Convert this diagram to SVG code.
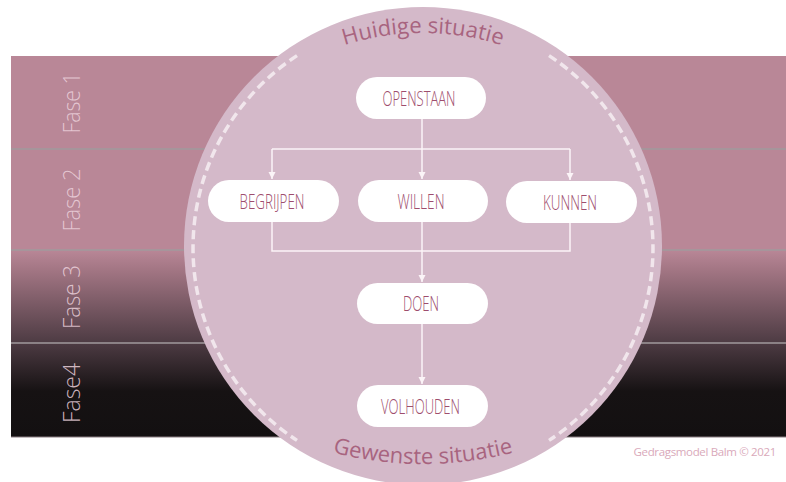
<svg xmlns="http://www.w3.org/2000/svg" width="786" height="482" viewBox="0 0 786 482">
<defs>
<linearGradient id="band" gradientUnits="userSpaceOnUse" x1="0" y1="56" x2="0" y2="437">
<stop offset="0" stop-color="#b98797"/>
<stop offset="0.509" stop-color="#b98797"/>
<stop offset="0.56" stop-color="#a37684"/>
<stop offset="0.753" stop-color="#4d3b43"/>
<stop offset="0.88" stop-color="#161213"/>
<stop offset="1" stop-color="#131011"/>
</linearGradient>
<marker id="arr" markerUnits="userSpaceOnUse" markerWidth="8" markerHeight="8" refX="7" refY="3.5" orient="auto">
<path d="M0,0 L7,3.5 L0,7 z" fill="#fbf4f7"/>
</marker>
<path id="topArc" d="M 163 293 A 260 260 0 0 1 683 293"/>
<path id="botArc" d="M 63 104 A 360 360 0 0 0 783 104"/>
</defs>
<style>
.fase{font-family:"Open Sans","Liberation Sans",sans-serif;font-weight:300;font-size:24px;fill:#ecd2dc;fill-opacity:0.85;text-anchor:middle}
.node rect{fill:#ffffff}
.node text{font-family:"Open Sans","Liberation Sans",sans-serif;font-weight:300;font-size:21px;fill:#9e4d6d;text-anchor:middle}
.conn path{fill:none;stroke:#fbf4f7;stroke-width:1.5}
.arc{font-family:"Open Sans","Liberation Sans",sans-serif;font-size:22px;fill:#a8647f}
.sep{stroke:#a09a9c;stroke-width:1.5}
</style>
<g id="bands">
<rect x="11" y="56" width="775" height="381" fill="url(#band)"/>
<line class="sep" x1="11" y1="149" x2="786" y2="149"/>
<line class="sep" x1="11" y1="250" x2="786" y2="250"/>
<line class="sep" x1="11" y1="343" x2="786" y2="343" stroke="#7e7a7c"/>
<line x1="11" y1="437" x2="786" y2="437" stroke="#8a7c82" stroke-width="1"/>
<text class="fase" transform="translate(80,103) rotate(-90)" textLength="61" lengthAdjust="spacingAndGlyphs">Fase 1</text>
<text class="fase" transform="translate(80,200) rotate(-90)" textLength="63" lengthAdjust="spacingAndGlyphs">Fase 2</text>
<text class="fase" transform="translate(80,297) rotate(-90)" textLength="64" lengthAdjust="spacingAndGlyphs">Fase 3</text>
<text class="fase" transform="translate(80,393) rotate(-90)" textLength="60" lengthAdjust="spacingAndGlyphs">Fase4</text>
</g>
<g id="circle">
<circle cx="423" cy="246" r="239" fill="#d4b9c9"/>
<path d="M 297 55.6 A 230 230 0 0 0 297 440.4" fill="none" stroke="#f1e6ec" stroke-width="3.5" stroke-dasharray="9 5"/>
<path d="M 549 55.6 A 230 230 0 0 1 549 440.4" fill="none" stroke="#f1e6ec" stroke-width="3.5" stroke-dasharray="9 5"/>
<text class="arc"><textPath href="#topArc" startOffset="50%" text-anchor="middle">Huidige situatie</textPath></text>
<text class="arc"><textPath href="#botArc" startOffset="50%" text-anchor="middle">Gewenste situatie</textPath></text>
</g>
<g id="connectors" class="conn">
<path d="M422 119 V179" marker-end="url(#arr)"/>
<path d="M272 149 H570"/>
<path d="M272 149 V179" marker-end="url(#arr)"/>
<path d="M570 149 V180" marker-end="url(#arr)"/>
<path d="M272 222 V251 H570 V223"/>
<path d="M422 222 V282" marker-end="url(#arr)"/>
<path d="M422 324 V384" marker-end="url(#arr)"/>
</g>
<g id="openstaan" class="node"><rect x="356" y="77" width="130" height="42" rx="21"/><text x="419" y="105.5" textLength="73" lengthAdjust="spacingAndGlyphs">OPENSTAAN</text></g>
<g id="begrijpen" class="node"><rect x="208" y="180" width="131" height="42" rx="21"/><text x="272" y="208.5" textLength="65" lengthAdjust="spacingAndGlyphs">BEGRIJPEN</text></g>
<g id="willen" class="node"><rect x="358" y="180" width="130" height="42" rx="21"/><text x="421" y="208.5" textLength="47" lengthAdjust="spacingAndGlyphs">WILLEN</text></g>
<g id="kunnen" class="node"><rect x="506" y="181" width="131" height="42" rx="21"/><text x="570" y="210" textLength="54" lengthAdjust="spacingAndGlyphs">KUNNEN</text></g>
<g id="doen" class="node"><rect x="357" y="283" width="131" height="41" rx="20.5"/><text x="421" y="311" textLength="36" lengthAdjust="spacingAndGlyphs">DOEN</text></g>
<g id="volhouden" class="node"><rect x="357" y="385" width="131" height="42" rx="21"/><text x="420.5" y="413.5" textLength="79" lengthAdjust="spacingAndGlyphs">VOLHOUDEN</text></g>
<text x="776" y="456" font-family="'Open Sans','Liberation Sans',sans-serif" font-size="11.5" letter-spacing="-0.35" fill="#d9a9ba" text-anchor="end">Gedragsmodel Balm © 2021</text>
</svg>
